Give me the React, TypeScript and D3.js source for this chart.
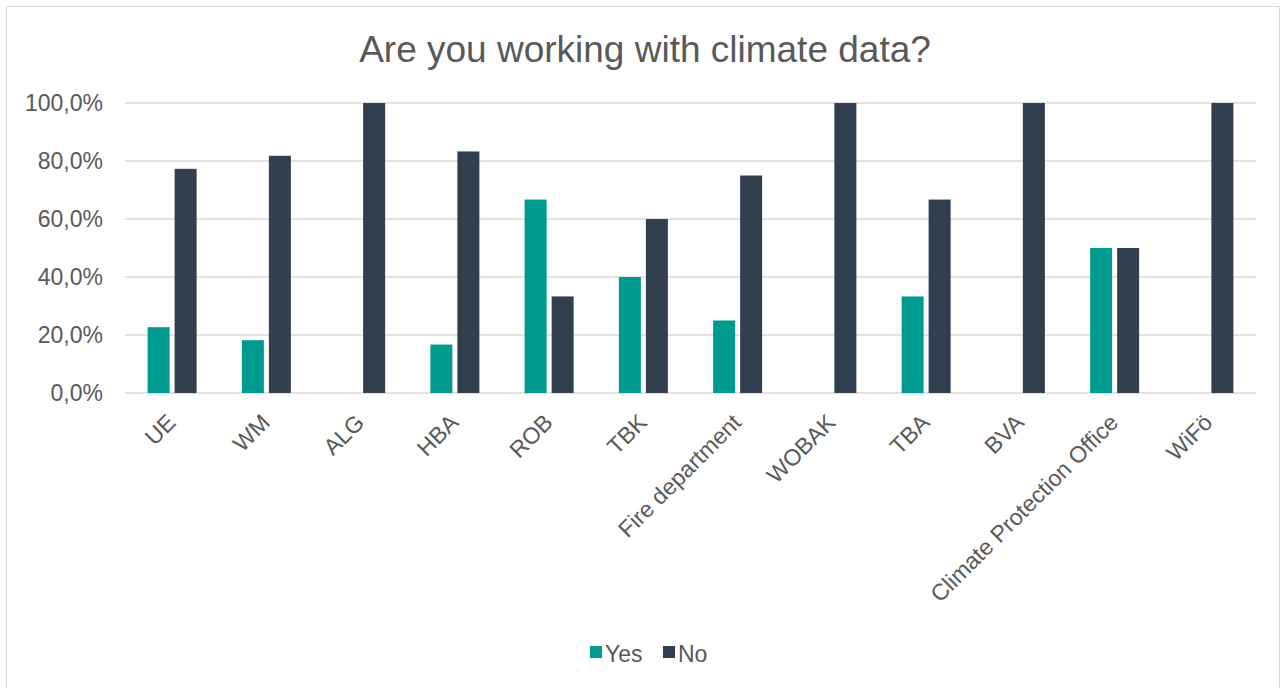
import * as d3 from 'd3';

const CATEGORIES = ['UE', 'WM', 'ALG', 'HBA', 'ROB', 'TBK', 'Fire department', 'WOBAK', 'TBA', 'BVA', 'Climate Protection Office', 'WiFö'];
const YES = [22.7, 18.2, 0, 16.7, 66.7, 40, 25, 0, 33.3, 0, 50, 0];
const NO = [77.3, 81.8, 100, 83.3, 33.3, 60, 75, 100, 66.7, 100, 50, 100];
const SERIES = [
  { key: 'Yes', values: YES, color: '#009b8f' },
  { key: 'No', values: NO, color: '#323f4f' },
];
const Y_TICKS = [0, 20, 40, 60, 80, 100];

const W = 1284, H = 688;
const M = { top: 103, right: 28, bottom: 295, left: 125 };
const TEXT = '#595959';
const FONT = '"Liberation Sans", Arial, sans-serif';

export default function App() {
  const x = d3.scaleBand<string>().domain(CATEGORIES).range([M.left, W - M.right]);
  const y = d3.scaleLinear().domain([0, 100]).range([H - M.bottom, M.top]);
  const barW = 22, gap = 5;
  const fmt = (v: number) => v.toFixed(1).replace('.', ',') + '%';

  return (
    <svg width={W} height={H} style={{ position: 'absolute', left: 0, top: 0, fontFamily: FONT }}>
      <rect x={0} y={0} width={W} height={H} fill="#fff" />
      <rect x={6.5} y={6.5} width={W - 11} height={H + 10} fill="none" stroke="#d9d9d9" />

      <text x={645} y={62} textAnchor="middle" fontSize={37} fill={TEXT}>Are you working with climate data?</text>

      {Y_TICKS.map(t => (
        <g key={t}>
          <line x1={M.left} x2={W - M.right} y1={y(t)} y2={y(t)} stroke="#d9d9d9" strokeWidth={1.5} />
          <text x={103} y={y(t) + 8} textAnchor="end" fontSize={23} fill={TEXT}>{fmt(t)}</text>
        </g>
      ))}

      {SERIES.map((s, si) => (
        <g key={s.key}>
          {s.values.map((v, i) => {
            const cx = x(CATEGORIES[i])! + x.bandwidth() / 2;
            const bx = si === 0 ? cx - gap / 2 - barW : cx + gap / 2;
            return v > 0 ? (
              <rect key={i} x={bx} y={y(v)} width={barW} height={y(0) - y(v)} fill={s.color} />
            ) : null;
          })}
        </g>
      ))}

      {CATEGORIES.map(c => {
        const cx = x(c)! + x.bandwidth() / 2;
        return (
          <text key={c} transform={`translate(${cx + 5},${y(0) + 31}) rotate(-45)`} textAnchor="end" fontSize={23} fill={TEXT}>{c}</text>
        );
      })}

      <g transform="translate(590,646)">
        {SERIES.map((s, i) => (
          <g key={s.key} transform={`translate(${i * 73},0)`}>
            <rect x={0} y={0} width={12} height={12} fill={s.color} />
            <text x={15} y={16} fontSize={23} fill={TEXT}>{s.key}</text>
          </g>
        ))}
      </g>
    </svg>
  );
}
